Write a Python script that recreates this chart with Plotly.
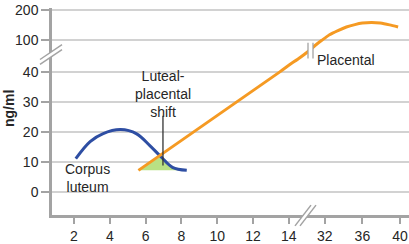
import plotly.graph_objects as go

# ---- data (weeks of gestation, ng/ml) ----
blue_weeks = [2.1, 2.9, 3.6, 4.6, 5.5, 6.25, 6.9, 7.5, 8.3]
blue_vals = [11.2, 16.9, 19.5, 20.9, 19.5, 15.5, 11.6, 8.3, 7.3]

orange_weeks = [5.6, 13.5, 14, 19.5, 23.5, 27, 30.5, 32.5, 33.4, 34.3, 35.2, 36, 37, 37.9, 38.9, 39.8]
orange_vals = [7.3, 41, 53, 67, 78, 89, 99, 117, 131, 143, 151, 156, 158, 156, 150, 143]

green_weeks = [5.6, 6.9, 7.2, 7.5, 7.9, 5.6]
green_vals = [7.3, 12.2, 10.2, 8.3, 7.3, 7.3]

shift_week = [6.97, 6.97]
shift_vals = [25.5, 8.9]

x_ticks = [2, 4, 6, 8, 10, 12, 14, 32, 36, 40]
y_ticks = [0, 10, 20, 30, 40, 100, 200]


# ---- broken-axis scale transforms ----
def tx(w):
    if w <= 14:
        return w
    if w < 32:
        return 14 + (w - 14) * 0.1117
    return 16.011 + (w - 32) * 0.5251


def ty(v):
    if v <= 40:
        return v
    if v < 100:
        return 40 + (v - 40) * (10.9 / 60)
    return 50.9 + (v - 100) * 0.0992


def P(px, py):
    return (px - 52) / 357, (217 - py) / 209


GRAY = "#a3a3a3"
GRID = "#d2d2d2"
TXT = "#262626"
FONT = "Liberation Sans, Arial, sans-serif"

fig = go.Figure()
fig.add_trace(go.Scatter(x=[tx(w) for w in green_weeks], y=[ty(v) for v in green_vals],
                         fill="toself", fillcolor="#b9e184", mode="none", hoverinfo="skip"))
fig.add_trace(go.Scatter(x=[tx(w) for w in blue_weeks], y=[ty(v) for v in blue_vals],
                         mode="lines", line=dict(color="#2e4ea3", width=3, shape="spline")))
fig.add_trace(go.Scatter(x=[tx(w) for w in orange_weeks], y=[ty(v) for v in orange_vals],
                         mode="lines", line=dict(color="#f59a23", width=3, shape="spline", smoothing=0.6)))
fig.add_trace(go.Scatter(x=[tx(w) for w in shift_week], y=[ty(v) for v in shift_vals],
                         mode="lines", line=dict(color="#333333", width=1.3)))

shapes = []


def path(pts, close=False):
    s = "M " + " L ".join(f"{P(a, b)[0]:.5f},{P(a, b)[1]:.5f}" for a, b in pts)
    return s + (" Z" if close else "")


# y-axis break
shapes.append(dict(type="path", xref="paper", yref="paper",
                   path=path([(40, 60), (62, 45), (62, 50), (40, 65)], True),
                   fillcolor="white", line=dict(width=0), layer="above"))
shapes.append(dict(type="path", xref="paper", yref="paper", path=path([(40, 60), (62, 45)]),
                   line=dict(color=GRAY, width=1.5), layer="above"))
shapes.append(dict(type="path", xref="paper", yref="paper", path=path([(40, 65), (62, 50)]),
                   line=dict(color=GRAY, width=1.5), layer="above"))
# x-axis break
shapes.append(dict(type="path", xref="paper", yref="paper",
                   path=path([(295, 228), (311, 207), (316, 207), (300, 228)], True),
                   fillcolor="white", line=dict(width=0), layer="above"))
shapes.append(dict(type="path", xref="paper", yref="paper", path=path([(295, 228), (311, 207)]),
                   line=dict(color=GRAY, width=1.5), layer="above"))
shapes.append(dict(type="path", xref="paper", yref="paper", path=path([(300, 228), (316, 207)]),
                   line=dict(color=GRAY, width=1.5), layer="above"))
# break on the placental curve
shapes.append(dict(type="path", xref="paper", yref="paper",
                   path=path([(308, 43), (313, 43), (313, 59), (308, 59)], True),
                   fillcolor="white", line=dict(width=0), layer="above"))
shapes.append(dict(type="path", xref="paper", yref="paper", path=path([(308, 43), (308, 59)]),
                   line=dict(color=GRAY, width=1.3), layer="above"))
shapes.append(dict(type="path", xref="paper", yref="paper", path=path([(313, 43), (313, 59)]),
                   line=dict(color=GRAY, width=1.3), layer="above"))

annotations = [
    dict(x=tx(6.97), y=32.7, text="Luteal-<br>placental<br>shift", showarrow=False,
         font=dict(size=14, color=TXT, family=FONT), xanchor="center", yanchor="middle"),
    dict(x=tx(2.78), y=4.6, text="Corpus<br>luteum", showarrow=False,
         font=dict(size=14, color=TXT, family=FONT), xanchor="center", yanchor="middle"),
    dict(x=17.22, y=44.3, text="Placental", showarrow=False,
         font=dict(size=14, color=TXT, family=FONT), xanchor="center", yanchor="middle"),
    dict(x=P(9, 110)[0], y=P(9, 110)[1], xref="paper", yref="paper", text="<b>ng/ml</b>",
         textangle=-90, showarrow=False, font=dict(size=14, color=TXT, family=FONT),
         xanchor="center", yanchor="middle"),
]

fig.update_layout(
    width=409, height=244,
    margin=dict(l=52, r=0, t=8, b=27),
    plot_bgcolor="white", paper_bgcolor="white",
    showlegend=False,
    shapes=shapes, annotations=annotations,
    xaxis=dict(range=[0.771, 20.715], tickvals=[tx(w) for w in x_ticks],
               ticktext=[str(w) for w in x_ticks], showgrid=False, zeroline=False,
               showline=True, linecolor=GRAY, linewidth=2.5,
               ticks="outside", ticklen=6, tickwidth=1.5, tickcolor=GRAY,
               tickfont=dict(size=14, color=TXT, family=FONT)),
    yaxis=dict(range=[-7.6, 61.5], tickvals=[ty(v) for v in y_ticks],
               ticktext=[str(v) for v in y_ticks], showgrid=True, gridcolor=GRID, gridwidth=1.5,
               zeroline=False, showline=True, linecolor=GRAY, linewidth=2.5,
               ticks="outside", ticklen=8, tickwidth=1.5, tickcolor=GRAY,
               tickfont=dict(size=14, color=TXT, family=FONT)),
)

fig.write_html("out.html")
